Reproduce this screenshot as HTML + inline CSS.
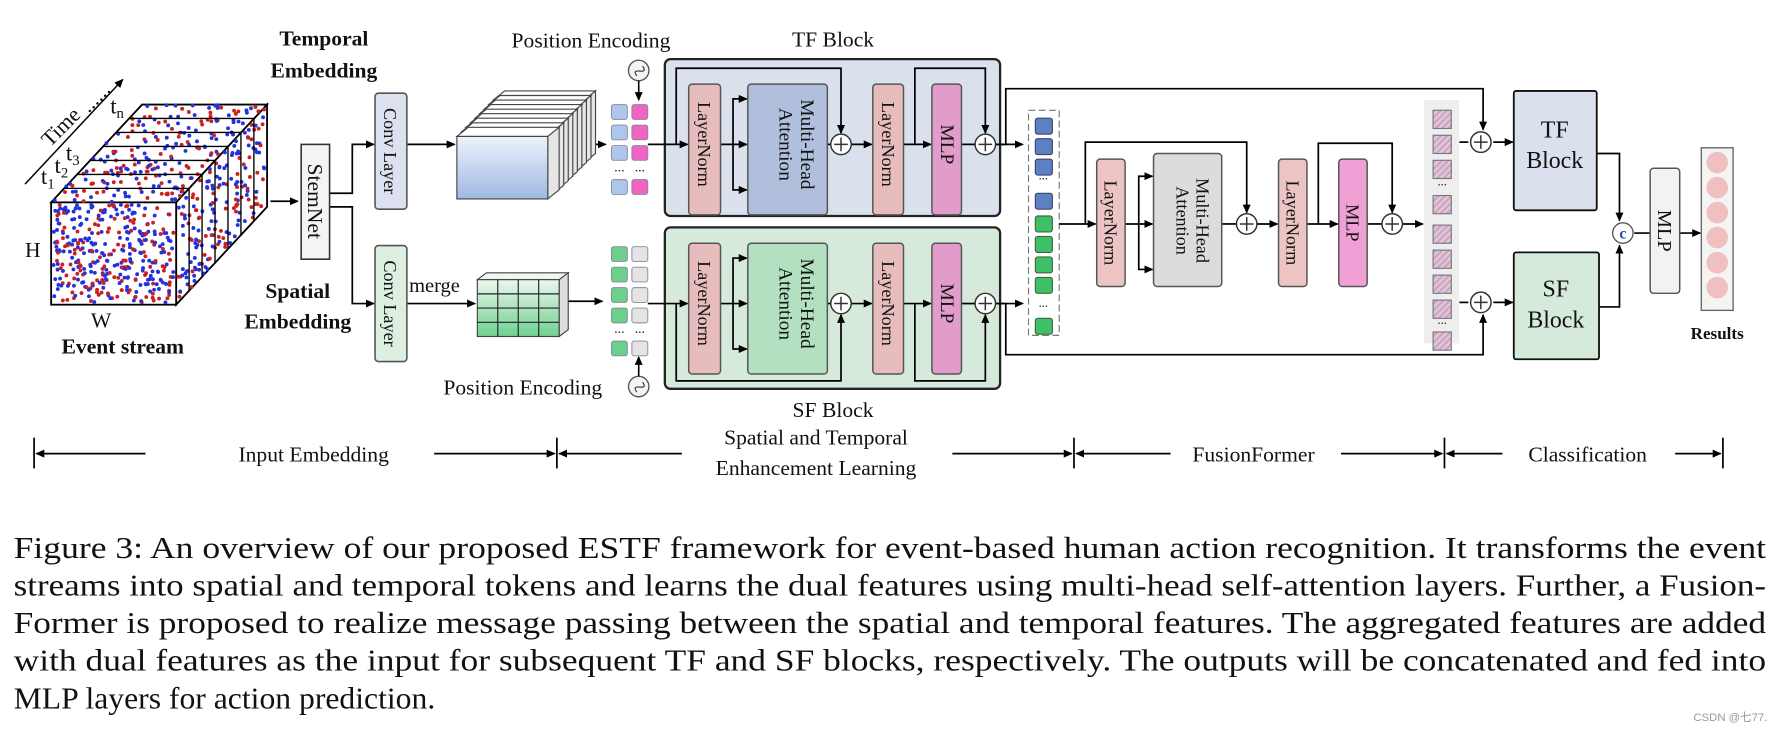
<!DOCTYPE html>
<html><head><meta charset="utf-8"><style>
html,body{margin:0;padding:0;background:#fff;}
svg{display:block;}
text{font-family:"Liberation Serif",serif;fill:#111;}
.b{font-weight:bold;}
</style></head><body>
<svg id="s" width="1782" height="731" viewBox="0 0 1568 643" preserveAspectRatio="none" xmlns="http://www.w3.org/2000/svg">
<defs>
<marker id="a" markerWidth="8" markerHeight="8" refX="7" refY="4" orient="auto" markerUnits="userSpaceOnUse"><path d="M0,0.5 L8,4 L0,7.5 Z" fill="#000"/></marker>
<linearGradient id="bg" x1="0" y1="0" x2="0" y2="1"><stop offset="0" stop-color="#eef2fa"/><stop offset="1" stop-color="#9db8e4"/></linearGradient>
<linearGradient id="gg" x1="0" y1="0" x2="0" y2="1"><stop offset="0" stop-color="#eaf7ee"/><stop offset="1" stop-color="#6fd08f"/></linearGradient>
<pattern id="st" width="4" height="4" patternUnits="userSpaceOnUse" patternTransform="rotate(45)"><rect width="4" height="4" fill="#e6c6d6"/><rect width="2" height="4" fill="#c9a6c6"/></pattern>
</defs>
<text x="285" y="40" font-size="19" class="b" text-anchor="middle">Temporal</text>
<text x="285" y="68" font-size="19" class="b" text-anchor="middle">Embedding</text>
<text x="520" y="42" font-size="19" text-anchor="middle">Position Encoding</text>
<text x="733" y="41" font-size="19" text-anchor="middle">TF Block</text>

<!-- cube -->
<g id="cube" stroke="#000" stroke-width="1.6" fill="#fff">
<polygon points="45,178 125,92 235,92 155,178"/>
<polygon points="155,178 235,92 235,182 155,268"/>
<rect x="45" y="178" width="110" height="90"/>
</g>
<g id="dots"></g>
<g stroke="#000" stroke-width="1.2" fill="none" id="slices"></g>
<line x1="22" y1="162" x2="108" y2="70" stroke="#000" stroke-width="1.3" marker-end="url(#a)"/>
<text transform="translate(44,130) rotate(-45)" font-size="19">Time</text>
<text transform="translate(78,100) rotate(-45)" font-size="19">......</text>
<text x="97" y="100" font-size="20">t<tspan font-size="13" dy="4">n</tspan></text>
<text x="36" y="162" font-size="20">t<tspan font-size="13" dy="4">1</tspan></text>
<text x="48" y="152" font-size="20">t<tspan font-size="13" dy="4">2</tspan></text>
<text x="58" y="141" font-size="20">t<tspan font-size="13" dy="4">3</tspan></text>
<text x="22" y="226" font-size="19">H</text>
<text x="80" y="288" font-size="19">W</text>
<text x="108" y="311" font-size="19" class="b" text-anchor="middle">Event stream</text>

<!-- stemnet -->
<g stroke="#000" stroke-width="1.5" fill="none">
<line x1="238" y1="177" x2="262" y2="177" marker-end="url(#a)"/>
<polyline points="290,170 310,170 310,127 329,127" marker-end="url(#a)"/>
<polyline points="290,182 310,182 310,267 329,267" marker-end="url(#a)"/>
<line x1="358" y1="127" x2="400" y2="127" marker-end="url(#a)"/>
<line x1="358" y1="267" x2="418" y2="267" marker-end="url(#a)"/>
<line x1="518" y1="127" x2="533" y2="127" marker-end="url(#a)"/>
<line x1="498" y1="265" x2="530" y2="265" marker-end="url(#a)"/>
</g>
<rect x="265" y="127" width="25" height="101" fill="#f4f4f4" stroke="#333" stroke-width="1.4"/>
<text transform="translate(271,177) rotate(90)" font-size="19" text-anchor="middle">StemNet</text>
<rect x="330" y="82" width="28" height="102" rx="3" fill="#dde0ee" stroke="#555" stroke-width="1.4"/>
<text transform="translate(338,133) rotate(90)" font-size="16" text-anchor="middle">Conv Layer</text>
<rect x="330" y="216" width="28" height="102" rx="3" fill="#dcefe0" stroke="#555" stroke-width="1.4"/>
<text transform="translate(338,267) rotate(90)" font-size="16" text-anchor="middle">Conv Layer</text>
<text x="262" y="262" font-size="19" class="b" text-anchor="middle">Spatial</text>
<text x="262" y="289" font-size="19" class="b" text-anchor="middle">Embedding</text>
<text x="360" y="257" font-size="18">merge</text>

<g id="stack" stroke="#444" stroke-width="1"></g>
<g stroke="#444" stroke-width="1">
<polygon points="420,246 428,240 500,240 492,246" fill="#eef6f0"/>
<polygon points="492,246 500,240 500,290 492,296" fill="#ddd"/>
<rect x="420" y="246" width="72" height="50" fill="url(#gg)"/>
<path d="M438,246V296M456,246V296M474,246V296M420,258.5H492M420,271H492M420,283.5H492" stroke="#222"/>
</g>

<g stroke="#555" stroke-width="1.2" fill="#f4f4f4">
<circle cx="562" cy="62" r="9"/><circle cx="562" cy="340" r="9"/>
</g>
<path d="M557,63 q2.5,-6 5,0 t5,0" stroke="#333" fill="none" transform="rotate(-60 562 62)"/>
<path d="M557,341 q2.5,-6 5,0 t5,0" stroke="#333" fill="none" transform="rotate(-60 562 340)"/>
<line x1="562" y1="71" x2="562" y2="88" stroke="#000" stroke-width="1.4" marker-end="url(#a)"/>
<line x1="562" y1="331" x2="562" y2="314" stroke="#000" stroke-width="1.4" marker-end="url(#a)"/>
<text x="460" y="347" font-size="19" text-anchor="middle">Position Encoding</text>
<g id="tok"></g>

<rect x="585" y="52" width="295" height="138" rx="5" fill="#dae0ec" stroke="#222" stroke-width="2"/>
<rect x="585" y="200" width="295" height="142" rx="5" fill="#d6eadc" stroke="#222" stroke-width="2"/>
<text x="733" y="367" font-size="19" text-anchor="middle">SF Block</text>
<g id="blocks"></g>

<rect x="905" y="97" width="27" height="198" fill="none" stroke="#777" stroke-width="1" stroke-dasharray="6,3"/>
<g id="fus"></g>

<g stroke="#000" stroke-width="1.5" fill="none">
<polyline points="877,127 885,127 885,78 1305,78 1305,114" marker-end="url(#a)"/>
<polyline points="877,267 885,267 885,312 1305,312 1305,277" marker-end="url(#a)"/>
<polyline points="932,197 964,197" marker-end="url(#a)"/>
<polyline points="955,197 955,125 1097,125 1097,187" marker-end="url(#a)"/>
<polyline points="990,197 1014,197" marker-end="url(#a)"/>
<polyline points="1002,197 1002,155 1014,155" marker-end="url(#a)"/>
<polyline points="1002,197 1002,237 1014,237" marker-end="url(#a)"/>
<line x1="1075" y1="197" x2="1088" y2="197"/>
<line x1="1106" y1="197" x2="1124" y2="197" marker-end="url(#a)"/>
<line x1="1150" y1="197" x2="1177" y2="197" marker-end="url(#a)"/>
<polyline points="1160,197 1160,126 1225,126 1225,187" marker-end="url(#a)"/>
<line x1="1203" y1="197" x2="1216" y2="197"/>
<line x1="1234" y1="197" x2="1252" y2="197" marker-end="url(#a)"/>
<line x1="1284" y1="125" x2="1292" y2="125"/>
<line x1="1314" y1="125" x2="1331" y2="125" marker-end="url(#a)"/>
<line x1="1284" y1="266" x2="1292" y2="266"/>
<line x1="1314" y1="266" x2="1331" y2="266" marker-end="url(#a)"/>
<polyline points="1405,135 1425,135 1425,194" marker-end="url(#a)"/>
<polyline points="1407,270 1425,270 1425,216" marker-end="url(#a)"/>
<line x1="1438" y1="205" x2="1452" y2="205"/>
<line x1="1478" y1="205" x2="1496" y2="205" marker-end="url(#a)"/>
</g>
<rect x="965" y="140" width="25" height="112" rx="3" fill="#ecc4c4" stroke="#555" stroke-width="1.3"/>
<text transform="translate(972,196) rotate(90)" font-size="16" text-anchor="middle">LayerNorm</text>
<rect x="1015" y="135" width="60" height="117" rx="3" fill="#dcdcdc" stroke="#555" stroke-width="1.3"/>
<text transform="translate(1053,194) rotate(90)" font-size="16" text-anchor="middle">Multi-Head</text>
<text transform="translate(1035,194) rotate(90)" font-size="16" text-anchor="middle">Attention</text>
<rect x="1125" y="140" width="25" height="112" rx="3" fill="#ecc4c4" stroke="#555" stroke-width="1.3"/>
<text transform="translate(1132,196) rotate(90)" font-size="16" text-anchor="middle">LayerNorm</text>
<rect x="1178" y="140" width="25" height="112" rx="3" fill="#f0a0d4" stroke="#555" stroke-width="1.3"/>
<text transform="translate(1185,196) rotate(90)" font-size="16" text-anchor="middle">MLP</text>
<g id="plus2"></g>
<rect x="1253" y="88" width="31" height="102" fill="#eeeeee"/>
<rect x="1253" y="190" width="31" height="112" fill="#eeeeee"/>
<g id="outtok"></g>
<rect x="1332" y="80" width="73" height="105" rx="2" fill="#dae0ec" stroke="#111" stroke-width="1.6"/>
<text x="1368" y="121" font-size="21" text-anchor="middle">TF</text>
<text x="1368" y="148" font-size="21" text-anchor="middle">Block</text>
<rect x="1332" y="222" width="75" height="94" rx="2" fill="#d6eadc" stroke="#111" stroke-width="1.6"/>
<text x="1369" y="261" font-size="21" text-anchor="middle">SF</text>
<text x="1369" y="288" font-size="21" text-anchor="middle">Block</text>
<circle cx="1428" cy="205" r="9" fill="#fff" stroke="#555" stroke-width="1.2"/>
<text x="1428" y="210" font-size="14" class="b" text-anchor="middle" style="fill:#1f4fa8">c</text>
<rect x="1452" y="148" width="26" height="110" rx="3" fill="#f2f2f2" stroke="#555" stroke-width="1.3"/>
<text transform="translate(1459,203) rotate(90)" font-size="18" text-anchor="middle">MLP</text>
<rect x="1497" y="130" width="28" height="143" fill="#f4f4f4" stroke="#666" stroke-width="1.2"/>
<g id="res"></g>
<text x="1511" y="298" font-size="15" class="b" text-anchor="middle">Results</text>

<g stroke="#000" stroke-width="1.5" fill="none">
<line x1="30" y1="385" x2="30" y2="412"/><line x1="490" y1="385" x2="490" y2="412"/>
<line x1="945" y1="385" x2="945" y2="412"/><line x1="1271" y1="385" x2="1271" y2="412"/><line x1="1516" y1="385" x2="1516" y2="412"/>
<line x1="128" y1="399" x2="32" y2="399" marker-end="url(#a)"/>
<line x1="382" y1="399" x2="488" y2="399" marker-end="url(#a)"/>
<line x1="600" y1="399" x2="492" y2="399" marker-end="url(#a)"/>
<line x1="838" y1="399" x2="943" y2="399" marker-end="url(#a)"/>
<line x1="1030" y1="399" x2="947" y2="399" marker-end="url(#a)"/>
<line x1="1180" y1="399" x2="1269" y2="399" marker-end="url(#a)"/>
<line x1="1322" y1="399" x2="1273" y2="399" marker-end="url(#a)"/>
<line x1="1474" y1="399" x2="1514" y2="399" marker-end="url(#a)"/>
</g>
<g font-size="19" text-anchor="middle">
<text x="276" y="406">Input Embedding</text>
<text x="718" y="391">Spatial and Temporal</text>
<text x="718" y="418">Enhancement Learning</text>
<text x="1103" y="406">FusionFormer</text>
<text x="1397" y="406">Classification</text>
</g>
<g font-size="27">
<text x="12" y="491" textLength="1542" lengthAdjust="spacingAndGlyphs">Figure 3: An overview of our proposed ESTF framework for event-based human action recognition. It transforms the event</text>
<text x="12" y="524" textLength="1542" lengthAdjust="spacingAndGlyphs">streams into spatial and temporal tokens and learns the dual features using multi-head self-attention layers. Further, a Fusion-</text>
<text x="12" y="557" textLength="1542" lengthAdjust="spacingAndGlyphs">Former is proposed to realize message passing between the spatial and temporal features. The aggregated features are added</text>
<text x="12" y="590" textLength="1542" lengthAdjust="spacingAndGlyphs">with dual features as the input for subsequent TF and SF blocks, respectively. The outputs will be concatenated and fed into</text>
<text x="12" y="623" textLength="371" lengthAdjust="spacingAndGlyphs">MLP layers for action prediction.</text>
</g>
<text x="1490" y="634" font-size="10" style="fill:#999;font-family:'Liberation Sans','Noto Sans CJK SC',sans-serif">CSDN @七77.</text>
</svg>
<script>
var NS="http://www.w3.org/2000/svg";
function el(p,t,a,txt){var e=document.createElementNS(NS,t);for(var k in a)e.setAttribute(k,a[k]);if(txt)e.textContent=txt;document.getElementById(p).appendChild(e);return e;}
var seed=7;function r(){seed=(seed*16807)%2147483647;return seed/2147483647;}
for(var i=0;i<750;i++){var x,y,f=r();
 if(f<0.5){x=47+r()*106;y=180+r()*86;}else if(f<0.78){var u=r(),v=r();x=125-v*80+u*110;y=92+v*86;}else{var u=r(),v=r();x=157+u*76;y=180-u*86+v*86;}
 el('dots','circle',{cx:x,cy:y,r:1.7,fill:r()<0.6?'#2233dd':'#cc1f1f'});}
for(var k=1;k<=6;k++){var dx=k*11.4,dy=-k*12.3;el('slices','polyline',{points:(155+dx)+','+(268+dy)+' '+(155+dx)+','+(178+dy)+' '+(45+dx)+','+(178+dy)});}
for(var k=8;k>=0;k--){var ox=k*4,oy=-k*4;
 el('stack','polygon',{points:(402+ox)+','+(120+oy)+' '+(412+ox)+','+(112+oy)+' '+(492+ox)+','+(112+oy)+' '+(482+ox)+','+(120+oy),fill:'#fff'});
 el('stack','polygon',{points:(482+ox)+','+(120+oy)+' '+(492+ox)+','+(112+oy)+' '+(492+ox)+','+(167+oy)+' '+(482+ox)+','+(175+oy),fill:'#e6e6e6'});}
el('stack','rect',{x:402,y:120,width:80,height:55,fill:'url(#bg)'});
function tk(x,y,c){el('tok','rect',{x:x,y:y,width:14,height:13,rx:2,fill:c,stroke:'#889',"stroke-width":0.8});}
[92,110,128,158].forEach(function(y){tk(538,y,'#aec6ee');tk(556,y,'#f064c4');});
[217,235,253,271,300].forEach(function(y){tk(538,y,'#6cd08c');tk(556,y,'#e4e4e4');});
el('tok','text',{x:545,y:151,"font-size":12,"text-anchor":"middle"},'...');el('tok','text',{x:563,y:151,"font-size":12,"text-anchor":"middle"},'...');
el('tok','text',{x:545,y:293,"font-size":12,"text-anchor":"middle"},'...');el('tok','text',{x:563,y:293,"font-size":12,"text-anchor":"middle"},'...');
function plus(g,x,y){el(g,'circle',{cx:x,cy:y,r:9,fill:'#fff',stroke:'#333',"stroke-width":1.3});
 el(g,'path',{d:'M'+(x-6)+','+y+'H'+(x+6)+'M'+x+','+(y-6)+'V'+(y+6),stroke:'#333',"stroke-width":1.3});}
function blk(cy,mc,skipUp){var g='blocks',top=cy-60,sk=skipUp?60:335,pe=skipUp?cy-10:cy+10;
 var L=function(pts,m){el(g,'polyline',{points:pts,fill:'none',stroke:'#000',"stroke-width":1.5,"marker-end":m?'url(#a)':''});};
 L('570,'+cy+' 605,'+cy,1);L('595,'+cy+' 595,'+sk+' 740,'+sk+' 740,'+pe,1);
 L('634,'+cy+' 657,'+cy,1);L('645,'+cy+' 645,'+(cy-40)+' 657,'+(cy-40),1);L('645,'+cy+' 645,'+(cy+40)+' 657,'+(cy+40),1);
 L('728,'+cy+' 731,'+cy);L('749,'+cy+' 767,'+cy,1);L('795,'+cy+' 819,'+cy,1);
 L('805,'+cy+' 805,'+sk+' 867,'+sk+' 867,'+pe,1);L('846,'+cy+' 858,'+cy);L('876,'+cy+' 900,'+cy,1);
 el(g,'rect',{x:606,y:top+7,width:28,height:115,rx:3,fill:'#e6bcbc',stroke:'#555',"stroke-width":1.3});
 el(g,'text',{transform:'translate(614,'+cy+') rotate(90)',"font-size":16,"text-anchor":"middle"},'LayerNorm');
 el(g,'rect',{x:658,y:top+7,width:70,height:115,rx:3,fill:mc,stroke:'#555',"stroke-width":1.3});
 el(g,'text',{transform:'translate(705,'+cy+') rotate(90)',"font-size":17,"text-anchor":"middle"},'Multi-Head');
 el(g,'text',{transform:'translate(686,'+cy+') rotate(90)',"font-size":17,"text-anchor":"middle"},'Attention');
 el(g,'rect',{x:768,y:top+7,width:27,height:115,rx:3,fill:'#e6bcbc',stroke:'#555',"stroke-width":1.3});
 el(g,'text',{transform:'translate(776,'+cy+') rotate(90)',"font-size":16,"text-anchor":"middle"},'LayerNorm');
 el(g,'rect',{x:820,y:top+7,width:26,height:115,rx:3,fill:'#e29ccc',stroke:'#555',"stroke-width":1.3});
 el(g,'text',{transform:'translate(828,'+cy+') rotate(90)',"font-size":17,"text-anchor":"middle"},'MLP');
 [740,867].forEach(function(x){plus(g,x,cy);});}
blk(127,'#b0c0dc',true);blk(267,'#b2e0c0',false);
[104,122,140,170].forEach(function(y){el('fus','rect',{x:911,y:y,width:15,height:14,rx:2,fill:'#5b80c4',stroke:'#446'});});
[190,208,226,244,280].forEach(function(y){el('fus','rect',{x:911,y:y,width:15,height:14,rx:2,fill:'#3fbf66',stroke:'#464'});});
el('fus','text',{x:918,y:158,"font-size":11,"text-anchor":"middle"},'...');el('fus','text',{x:918,y:270,"font-size":11,"text-anchor":"middle"},'...');
plus('plus2',1097,197);plus('plus2',1225,197);plus('plus2',1303,125);plus('plus2',1303,266);
[97,119,141,172,198,220,242,264,292].forEach(function(y){el('outtok','rect',{x:1261,y:y,width:16,height:16,fill:'url(#st)',stroke:'#777',"stroke-width":1});});
el('outtok','text',{x:1269,y:163,"font-size":11,"text-anchor":"middle"},'...');el('outtok','text',{x:1269,y:285,"font-size":11,"text-anchor":"middle"},'...');
[143,165,187,209,231,253].forEach(function(y){el('res','circle',{cx:1511,cy:y,r:9.5,fill:'#f0c0c0'});});
</script>
</body></html>
